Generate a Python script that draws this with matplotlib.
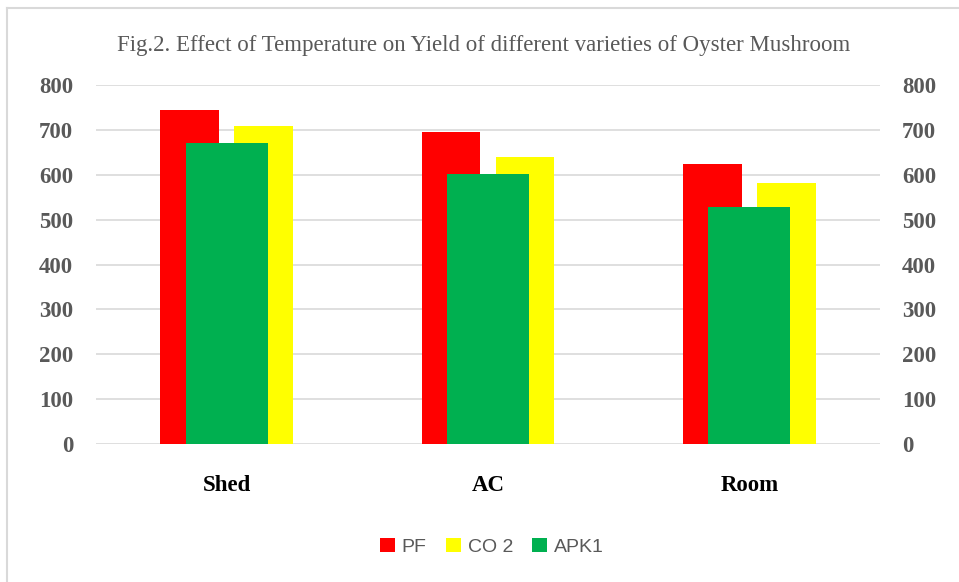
import matplotlib
matplotlib.use("Agg")
import matplotlib.pyplot as plt
from matplotlib.patches import Patch
from matplotlib.lines import Line2D
import numpy as np

categories = ["Shed", "AC", "Room"]
pf = [746, 695, 624]
co2 = [709, 640, 583]
apk1 = [672, 603, 529]
yticks = [0, 100, 200, 300, 400, 500, 600, 700, 800]
title = "Fig.2. Effect of Temperature on Yield of different varieties of Oyster Mushroom"

W, H = 959, 582
fig = plt.figure(figsize=(W / 100, H / 100), dpi=100)
fig.patch.set_facecolor("white")

left, right, bottom, top = 96 / W, 880 / W, 1 - 444 / H, 1 - 85.3 / H
ax = fig.add_axes([left, bottom, right - left, top - bottom])
ax2 = ax.twinx()

x = np.arange(len(categories))
side_w = 0.2245
mid_w = 0.314
off = 0.142

ax.bar(x - off, pf, width=side_w, color="#FF0000", zorder=3)
ax.bar(x + off, co2, width=side_w, color="#FFFF00", zorder=3)
ax2.bar(x, apk1, width=mid_w, color="#00B050", zorder=3)

for a in (ax, ax2):
    a.set_ylim(0, 800)
    a.set_xlim(-0.5, len(categories) - 0.5)
    a.set_yticks(yticks)
    for s in a.spines.values():
        s.set_visible(False)
    a.tick_params(length=0)

ax.yaxis.grid(True, color="#D9D9D9", linewidth=1.2, zorder=0)
ax.set_axisbelow(True)
ax2.yaxis.grid(False)

tick_font = dict(family="Liberation Serif", weight="bold", size=16.5)
ax.set_yticklabels([str(v) for v in yticks], color="#595959", fontdict=tick_font)
ax2.set_yticklabels([str(v) for v in yticks], color="#595959", fontdict=tick_font)
ax.tick_params(axis="y", pad=16.5)
ax2.tick_params(axis="y", pad=16)

ax.set_xticks(x)
ax.set_xticklabels(categories, family="Liberation Serif", weight="bold", size=16.5, color="black")
ax.tick_params(axis="x", pad=22)

fig.text(484 / W, 1 - 45 / H, title, ha="center", va="center",
         family="Liberation Serif", size=16.5, color="#595959")

handles = [Patch(facecolor="#FF0000", edgecolor="none"),
           Patch(facecolor="#FFFF00", edgecolor="none"),
           Patch(facecolor="#00B050", edgecolor="none")]
fig.legend(handles, ["PF", "CO 2", "APK1"], loc="center", bbox_to_anchor=(492 / W, 1 - 547 / H),
           ncol=3, frameon=False, prop=dict(family="Liberation Sans", size=14),
           labelcolor="#595959", handlelength=0.75, handleheight=0.75, handletextpad=0.35,
           columnspacing=1.0)

# outer frame lines (left and top)
fig.add_artist(Line2D([7 / W, 7 / W], [0, 1 - 8 / H], color="#D9D9D9", linewidth=1.5,
                      transform=fig.transFigure))
fig.add_artist(Line2D([7 / W, 1], [1 - 8 / H, 1 - 8 / H], color="#D9D9D9", linewidth=1.5,
                      transform=fig.transFigure))

fig.savefig("out.png", dpi=100, facecolor="white")
